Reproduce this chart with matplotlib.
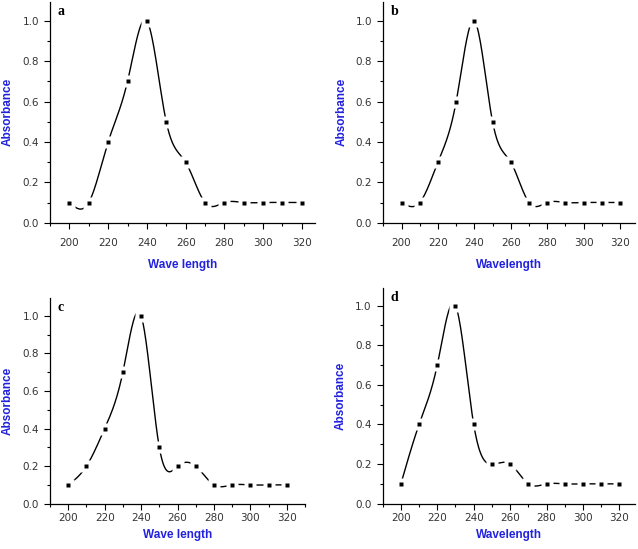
import numpy as np
import matplotlib
matplotlib.use("Agg")
import matplotlib.pyplot as plt
from matplotlib.ticker import MultipleLocator

wavelength = [200, 210, 220, 230, 240, 250, 260, 270, 280, 290, 300, 310, 320]
abs_a = [0.1, 0.1, 0.4, 0.7, 1.0, 0.5, 0.3, 0.1, 0.1, 0.1, 0.1, 0.1, 0.1]
abs_b = [0.1, 0.1, 0.3, 0.6, 1.0, 0.5, 0.3, 0.1, 0.1, 0.1, 0.1, 0.1, 0.1]
abs_c = [0.1, 0.2, 0.4, 0.7, 1.0, 0.3, 0.2, 0.2, 0.1, 0.1, 0.1, 0.1, 0.1]
abs_d = [0.1, 0.4, 0.7, 1.0, 0.4, 0.2, 0.2, 0.1, 0.1, 0.1, 0.1, 0.1, 0.1]
panel_letters = ["a", "b", "c", "d"]
x_labels = ["Wave length", "Wavelength", "Wave length", "Wavelength"]


def spline(x, y, n=400):
    # natural cubic spline, like Origin's spline connect
    x = np.asarray(x, float)
    y = np.asarray(y, float)
    k = len(x)
    h = np.diff(x)
    A = np.zeros((k, k))
    r = np.zeros(k)
    A[0, 0] = A[-1, -1] = 1
    for i in range(1, k - 1):
        A[i, i - 1] = h[i - 1]
        A[i, i] = 2 * (h[i - 1] + h[i])
        A[i, i + 1] = h[i]
        r[i] = 6 * ((y[i + 1] - y[i]) / h[i] - (y[i] - y[i - 1]) / h[i - 1])
    m = np.linalg.solve(A, r)
    xs = np.linspace(x[0], x[-1], n)
    idx = np.clip(np.searchsorted(x, xs) - 1, 0, k - 2)
    x0, x1 = x[idx], x[idx + 1]
    hh = x1 - x0
    t0 = x1 - xs
    t1 = xs - x0
    ys = (m[idx] * t0**3 + m[idx + 1] * t1**3) / (6 * hh) \
        + (y[idx] / hh - m[idx] * hh / 6) * t0 \
        + (y[idx + 1] / hh - m[idx + 1] * hh / 6) * t1
    return xs, ys


fig = plt.figure(figsize=(6.38, 5.49), dpi=100)

# left, bottom, width, height, xlim right, ylim top, xtick pad, xlabel pad
layout = [
    [0.0784, 0.5944, 0.416, 0.4020, 327.0, 1.094, 7, 8],
    [0.6008, 0.5944, 0.3945, 0.4020, 328.2, 1.094, 7, 8],
    [0.0784, 0.0825, 0.3997, 0.3752, 330.0, 1.096, 3, 4],
    [0.5998, 0.0825, 0.3955, 0.3935, 328.6, 1.090, 3, 4],
]
series = [abs_a, abs_b, abs_c, abs_d]

for i in range(4):
    l, b, w, hgt, xr, yt, xpad, lpad = layout[i]
    ax = fig.add_axes([l, b, w, hgt])
    y = series[i]
    xs, ys = spline(wavelength, y)
    ax.plot(xs, ys, color="black", lw=1.0)
    ax.plot(wavelength, y, "s", ms=8, color="white", mec="none")
    ax.plot(wavelength, y, "s", ms=3.3, color="black", mec="none")
    ax.set_xlim(190, xr)
    ax.set_ylim(0, yt)
    for s in ["top", "right"]:
        ax.spines[s].set_visible(False)
    ax.spines["left"].set_linewidth(0.9)
    ax.spines["bottom"].set_linewidth(0.9)
    ax.xaxis.set_major_locator(MultipleLocator(20))
    ax.xaxis.set_minor_locator(MultipleLocator(10))
    ax.yaxis.set_major_locator(MultipleLocator(0.2))
    ax.yaxis.set_minor_locator(MultipleLocator(0.1))
    ax.set_xticks(range(200, 321, 20))
    ax.yaxis.set_major_formatter(matplotlib.ticker.FormatStrFormatter("%.1f"))
    ax.tick_params(which="major", length=4, width=0.8, labelsize=7.5,
                   labelcolor="#333333", direction="out")
    ax.tick_params(which="minor", length=2.5, width=0.8, direction="out")
    ax.tick_params(axis="x", pad=xpad)
    ax.tick_params(axis="y", pad=4)
    ax.set_ylabel("Absorbance", color="#2222dd", fontsize=8.5,
                  fontweight="bold", family="Liberation Sans", labelpad=6)
    ax.set_xlabel(x_labels[i], color="#2222dd", fontsize=8.5,
                  fontweight="bold", family="Liberation Sans", labelpad=lpad)
    ax.text(0.03, 0.985, panel_letters[i], transform=ax.transAxes,
            fontsize=10, fontweight="bold", family="Liberation Serif",
            va="top", ha="left")

fig.savefig("out.png", dpi=100)
